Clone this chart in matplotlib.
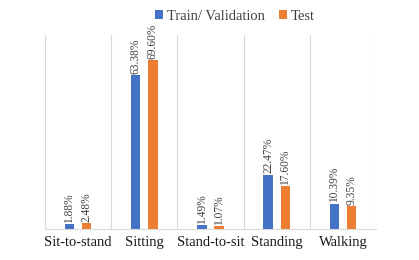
import matplotlib
matplotlib.use("Agg")
import matplotlib.pyplot as plt
import numpy as np

categories = ["Sit-to-stand", "Sitting", "Stand-to-sit", "Standing", "Walking"]
train_val = [1.88, 63.38, 1.49, 22.47, 10.39]
test = [2.48, 69.60, 1.07, 17.60, 9.35]
series_names = ["Train/ Validation", "Test"]
colors = ["#4472C4", "#ED7D31"]

plt.rcParams['font.family'] = ['Liberation Serif', 'DejaVu Serif']

fig = plt.figure(figsize=(4.19, 2.6), dpi=100)
ax = fig.add_axes([45/419, 1-229/260, (376-45)/419, (229-35)/260])

x = np.arange(len(categories))
w = 0.14
off = 0.13
b1 = ax.bar(x - off, train_val, w, color=colors[0], label=series_names[0])
b2 = ax.bar(x + off, test, w, color=colors[1], label=series_names[1])

for bars, vals in ((b1, train_val), (b2, test)):
    for r, v in zip(bars, vals):
        ax.text(r.get_x() + r.get_width()/2, r.get_height() + 0.6, f"{v:.2f}%",
                rotation=90, ha='center', va='bottom', fontsize=8.3, color='#404040')

ax.set_xlim(-0.5, len(categories) - 0.5)
ax.set_ylim(0, 80)
ax.set_yticks([])
ax.set_xticks(x)
ax.set_xticklabels(categories, fontsize=10.5, color='#1a1a1a')
ax.tick_params(axis='x', length=0, pad=5)
for b in np.arange(-0.5, len(categories), 1.0):
    ax.axvline(b, color='#D9D9D9', lw=0.8, zorder=0)
for s in ['top', 'left', 'right']:
    ax.spines[s].set_visible(False)
ax.spines['bottom'].set_color('#D9D9D9')
ax.spines['bottom'].set_linewidth(0.8)

fig.legend(handles=[b1, b2], labels=series_names, loc='center', bbox_to_anchor=(235/419, 1-16/260),
           ncol=2, frameon=False, fontsize=10.5, handlelength=0.55, handleheight=0.55,
           handletextpad=0.25, columnspacing=1.0, labelcolor='#404040')

fig.savefig("out.png", dpi=100)
